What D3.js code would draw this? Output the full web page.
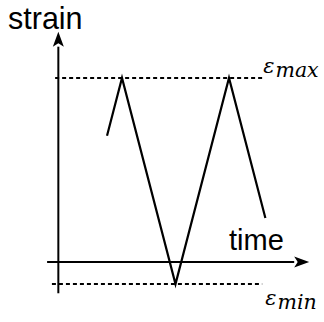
<!DOCTYPE html>
<html>
<head>
<meta charset="utf-8">
<script src="https://cdn.jsdelivr.net/npm/d3@7"></script>
<style>
  html, body { margin: 0; padding: 0; background: #fff; }
  svg { display: block; }
</style>
</head>
<body>
<script>
// Triangle strain cycle between two strain limits, drawn on bare arrowed axes.
const waveTime   = [0.72, 1, 2, 3, 3.68];
const waveStrain = [7.2, 10, 0, 10, 3.2];

const levelNames  = ["max", "min"];
const levelValues = [10, 0];
const levelStart  = [-0.25, -0.31];
const levelEnd    = [3.62, 3.62];

const timeAxisRange   = [-0.4, 4.48];   // horizontal axis extent (time units)
const strainAxisRange = [-0.45, 12.2];  // vertical axis extent (strain units)
const timeAxisAt   = 1.07;              // strain where the time axis sits
const strainAxisAt = -0.19;             // time where the strain axis sits

const axisLabels = ["strain", "time"];

const W = 324, H = 322;
const svg = d3.select("body").append("svg")
  .attr("width", W).attr("height", H);

const x = d3.scaleLinear().domain([0, 4]).range([68.5, 282.5]);
const y = d3.scaleLinear().domain([0, 10]).range([284, 78]);

// arrowhead
svg.append("defs").append("marker")
  .attr("id", "arrow")
  .attr("markerUnits", "userSpaceOnUse")
  .attr("viewBox", "-2 -7 20 14")
  .attr("markerWidth", 20).attr("markerHeight", 14)
  .attr("refX", 0).attr("refY", 0)
  .attr("orient", "auto")
  .append("path")
  .attr("d", "M15,0 L0,-5.5 L3.5,0 L0,5.5 Z")
  .attr("fill", "#000");

const tip = 14; // distance from line end to arrow tip

// strain axis (vertical)
svg.append("line")
  .attr("x1", x(strainAxisAt)).attr("x2", x(strainAxisAt))
  .attr("y1", y(strainAxisRange[0])).attr("y2", y(strainAxisRange[1]) + tip)
  .attr("stroke", "#000").attr("stroke-width", 2)
  .attr("marker-end", "url(#arrow)");

// time axis (horizontal)
svg.append("line")
  .attr("x1", x(timeAxisRange[0])).attr("x2", x(timeAxisRange[1]) - tip)
  .attr("y1", y(timeAxisAt)).attr("y2", y(timeAxisAt))
  .attr("stroke", "#000").attr("stroke-width", 2)
  .attr("marker-end", "url(#arrow)");

// strain limit levels
svg.selectAll("line.level")
  .data(levelValues)
  .join("line")
  .attr("class", "level")
  .attr("x1", (d, i) => x(levelStart[i]))
  .attr("x2", (d, i) => x(levelEnd[i]))
  .attr("y1", d => y(d)).attr("y2", d => y(d))
  .attr("stroke", "#000").attr("stroke-width", 1.8)
  .attr("stroke-dasharray", "4,3");

// strain cycle
const pts = waveTime.map((t, i) => [t, waveStrain[i]]);
svg.append("path")
  .attr("d", d3.line().x(d => x(d[0])).y(d => y(d[1]))(pts))
  .attr("fill", "none")
  .attr("stroke", "#000").attr("stroke-width", 2.2)
  .attr("stroke-linejoin", "miter");

// axis titles
svg.append("text")
  .attr("x", 8).attr("y", 29)
  .attr("font-family", "Liberation Sans, Arial, sans-serif")
  .attr("font-size", 30.5)
  .text(axisLabels[0]);

svg.append("text")
  .attr("x", 229).attr("y", 250)
  .attr("font-family", "Liberation Sans, Arial, sans-serif")
  .attr("font-size", 29)
  .text(axisLabels[1]);

// level labels: epsilon with subscript
const levelLabelOffsets = [[1, -5], [3, 21]];
levelNames.forEach((name, i) => {
  const lx = x(levelEnd[i]) + levelLabelOffsets[i][0];
  const ly = y(levelValues[i]) + levelLabelOffsets[i][1];
  const t = svg.append("text")
    .attr("x", lx).attr("y", ly)
    .attr("font-family", "DejaVu Serif, serif")
    .attr("font-style", "italic");
  t.append("tspan").attr("font-size", 21).text("ε");
  t.append("tspan").attr("font-size", 20.5).attr("dy", 4).attr("dx", 1)
    .text(name);
});
</script>
</body>
</html>
